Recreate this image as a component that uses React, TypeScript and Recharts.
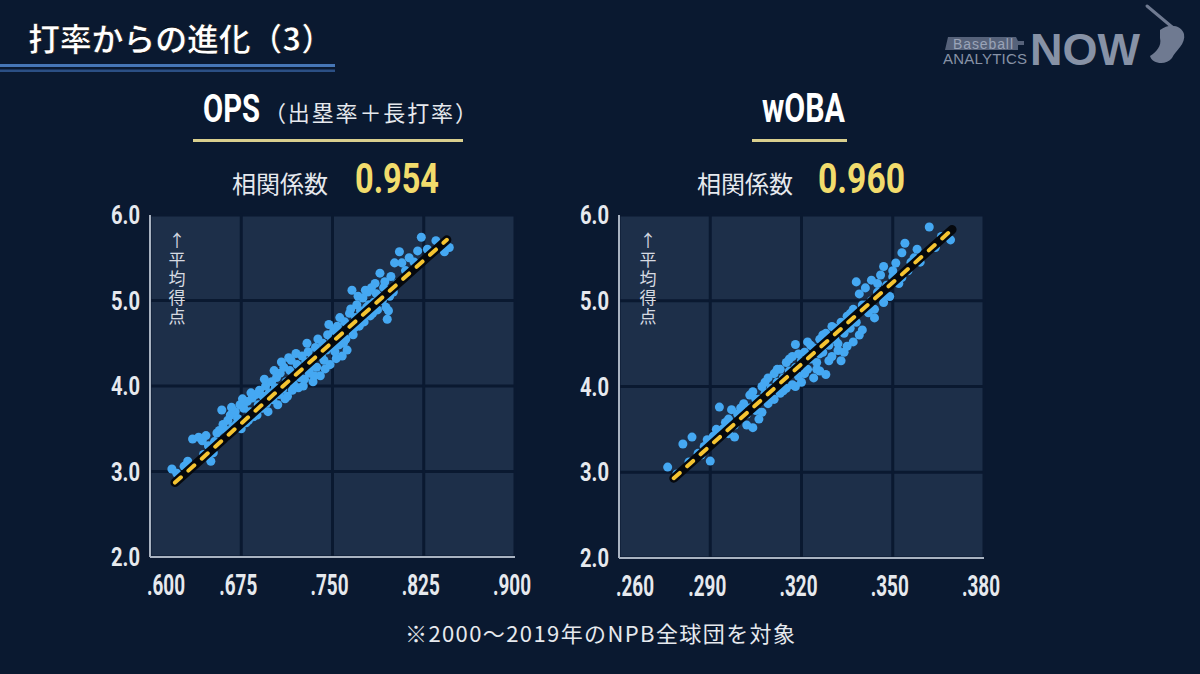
import React from 'react';
import { ScatterChart, Scatter, XAxis, YAxis, ZAxis, CartesianGrid } from 'recharts';

// OPS vs 平均得点 (estimated from the slide)
const opsSample: [number, number][] = [
  [0.618, 3.03], [0.622, 2.98], [0.628, 3.06], [0.631, 3.12], [0.635, 3.38], [0.64, 3.4],
  [0.643, 3.36], [0.646, 3.42], [0.648, 3.3], [0.65, 3.12], [0.652, 3.22], [0.655, 3.45],
  [0.657, 3.48], [0.659, 3.72], [0.66, 3.55], [0.662, 3.4], [0.664, 3.6], [0.666, 3.66],
  [0.668, 3.52], [0.67, 3.7], [0.672, 3.62], [0.674, 3.78], [0.675, 3.5], [0.677, 3.74],
  [0.679, 3.57], [0.68, 3.82], [0.682, 3.7], [0.684, 3.86], [0.685, 3.64], [0.687, 3.9],
  [0.689, 3.78], [0.69, 3.95], [0.692, 3.74], [0.693, 3.88], [0.695, 4.0], [0.696, 3.8],
  [0.698, 3.92], [0.7, 4.05], [0.701, 3.84], [0.703, 3.98], [0.704, 4.1], [0.706, 3.9],
  [0.707, 4.15], [0.709, 3.96], [0.71, 4.22], [0.712, 4.05], [0.713, 3.88], [0.715, 4.18],
  [0.716, 4.3], [0.718, 4.02], [0.719, 4.12], [0.721, 4.25], [0.722, 3.98], [0.724, 4.2],
  [0.725, 4.35], [0.727, 4.08], [0.728, 4.28], [0.73, 4.4], [0.731, 4.15], [0.733, 4.32],
  [0.734, 4.05], [0.736, 4.45], [0.737, 4.22], [0.739, 4.38], [0.74, 4.12], [0.742, 4.5],
  [0.743, 4.3], [0.745, 4.42], [0.746, 4.6], [0.748, 4.25], [0.749, 4.52], [0.751, 4.65],
  [0.752, 4.4], [0.754, 4.7], [0.755, 4.48], [0.757, 4.62], [0.758, 4.35], [0.76, 4.75],
  [0.761, 4.55], [0.763, 4.68], [0.764, 4.85], [0.766, 5.12], [0.767, 4.6], [0.769, 4.8],
  [0.77, 4.95], [0.772, 4.7], [0.773, 4.88], [0.775, 5.03], [0.776, 4.75], [0.778, 4.92],
  [0.779, 5.1], [0.781, 4.82], [0.782, 5.15], [0.784, 4.98], [0.785, 5.2], [0.787, 4.89],
  [0.788, 5.05], [0.789, 5.32], [0.791, 5.0], [0.793, 5.22], [0.795, 4.78], [0.796, 4.88],
  [0.798, 5.28], [0.8, 5.1], [0.801, 5.44], [0.803, 5.2], [0.805, 5.57], [0.807, 5.44],
  [0.81, 5.35], [0.813, 5.5], [0.817, 5.45], [0.82, 5.58], [0.823, 5.74], [0.828, 5.6],
  [0.835, 5.7], [0.842, 5.57], [0.846, 5.62],
  [0.683, 3.92], [0.688, 3.66], [0.694, 4.08], [0.697, 3.7], [0.702, 4.18], [0.705, 3.78],
  [0.708, 4.28], [0.711, 3.85], [0.714, 4.33], [0.717, 3.95], [0.72, 4.38], [0.723, 4.1],
  [0.726, 4.0], [0.729, 4.5], [0.732, 4.22], [0.735, 4.12], [0.738, 4.55], [0.741, 4.35],
  [0.744, 4.2], [0.747, 4.72], [0.75, 4.45], [0.753, 4.32], [0.756, 4.8], [0.759, 4.5],
  [0.762, 4.42], [0.765, 4.9], [0.768, 4.68], [0.771, 5.05], [0.774, 4.78], [0.777, 5.12],
  [0.78, 4.95], [0.783, 4.85], [0.786, 5.08], [0.792, 5.15], [0.794, 4.92], [0.797, 5.05],
  [0.663, 3.48], [0.667, 3.75], [0.671, 3.55], [0.676, 3.85], [0.681, 3.6], [0.644, 3.2],
  [0.653, 3.35],
];
const opsFit: [number, number][] = [[0.6205, 2.87], [0.844, 5.71]];
const opsTicks = [0.6, 0.675, 0.75, 0.825, 0.9];

// wOBA vs 平均得点
const wobaSample: [number, number][] = [
  [0.276, 3.06], [0.279, 2.98], [0.281, 3.33], [0.283, 3.12], [0.284, 3.41], [0.286, 3.22],
  [0.288, 3.3], [0.289, 3.38], [0.29, 3.13], [0.291, 3.42], [0.293, 3.76], [0.294, 3.5],
  [0.295, 3.58], [0.296, 3.45], [0.297, 3.73], [0.298, 3.41], [0.299, 3.68], [0.3, 3.62],
  [0.301, 3.8], [0.302, 3.55], [0.303, 3.9], [0.304, 3.52], [0.304, 3.94], [0.305, 3.72],
  [0.306, 3.85], [0.307, 4.0], [0.307, 3.7], [0.308, 3.92], [0.309, 4.1], [0.309, 3.8],
  [0.31, 3.98], [0.311, 4.15], [0.311, 3.85], [0.312, 4.05], [0.313, 4.2], [0.313, 3.92],
  [0.314, 4.1], [0.315, 4.28], [0.315, 3.98], [0.316, 4.18], [0.317, 4.35], [0.317, 4.02],
  [0.318, 4.22], [0.318, 4.49], [0.319, 4.12], [0.32, 4.3], [0.32, 4.05], [0.321, 4.4],
  [0.322, 4.2], [0.322, 4.52], [0.323, 4.32], [0.324, 4.1], [0.324, 4.45], [0.325, 4.28],
  [0.326, 4.55], [0.326, 4.18], [0.327, 4.4], [0.328, 4.14], [0.328, 4.62], [0.329, 4.48],
  [0.33, 4.35], [0.33, 4.7], [0.331, 4.55], [0.332, 4.42], [0.333, 4.75], [0.333, 4.3],
  [0.334, 4.62], [0.335, 4.47], [0.335, 4.82], [0.336, 4.68], [0.337, 4.52], [0.337, 4.9],
  [0.338, 5.22], [0.338, 4.75], [0.339, 5.08], [0.34, 4.66], [0.34, 4.95], [0.341, 5.15],
  [0.342, 4.86], [0.343, 5.24], [0.343, 5.0], [0.344, 4.8], [0.345, 5.1], [0.346, 5.3],
  [0.347, 4.98], [0.347, 5.07], [0.347, 5.4], [0.348, 5.18], [0.35, 5.28], [0.351, 5.44],
  [0.352, 5.2], [0.353, 5.27], [0.353, 5.56], [0.354, 5.67], [0.355, 5.35], [0.357, 5.5],
  [0.359, 5.45], [0.362, 5.86], [0.364, 5.62], [0.366, 5.75], [0.369, 5.71],
  [0.292, 3.5], [0.296, 3.62], [0.3, 3.75], [0.302, 3.68], [0.305, 3.85], [0.306, 3.62],
  [0.308, 4.05], [0.31, 3.85], [0.312, 4.2], [0.314, 3.95], [0.316, 4.32], [0.318, 4.0],
  [0.319, 4.38], [0.321, 4.15], [0.323, 4.48], [0.325, 4.2], [0.327, 4.6], [0.329, 4.3],
  [0.331, 4.68], [0.332, 4.5], [0.334, 4.4], [0.336, 4.85], [0.339, 4.6], [0.341, 4.95],
  [0.344, 4.9], [0.345, 5.2], [0.349, 5.05], [0.35, 5.35], [0.356, 5.45], [0.358, 5.6],
  [0.287, 3.2], [0.298, 3.55], [0.303, 3.75], [0.313, 4.02], [0.326, 4.38],
];
const wobaFit: [number, number][] = [[0.278, 2.93], [0.3695, 5.83]];
const wobaTicks = [0.26, 0.29, 0.32, 0.35, 0.38];

const runTicks = [2, 3, 4, 5, 6];

const BG = '#0a1930';
const PLOT = '#1d2f49';
const DOT = '#45a8f2';
const TXT = '#e6e9ee';
const COND = "Roboto, 'Liberation Sans', sans-serif";
const JP = "'Noto Sans CJK JP', 'Noto Sans', sans-serif";

const toXY = (pts: [number, number][]) => pts.map(([x, y]) => ({ x, y }));
const fmt3 = (v: number) => v.toFixed(3).slice(1);

const XTick = (props: any) => {
  const { x, y, payload, index } = props;
  return (
    <text
      x={x + (index === 0 ? 16 : -3)}
      y={y + 36}
      textAnchor="middle"
      fill={TXT}
      fontSize={29}
      fontWeight={700}
      fontFamily={COND}
      textLength={38}
      lengthAdjust="spacingAndGlyphs"
    >
      {fmt3(payload.value)}
    </text>
  );
};

const YTick = (props: any) => {
  const { x, y, payload } = props;
  return (
    <text
      x={x}
      y={y + 9}
      textAnchor="end"
      fill={TXT}
      fontSize={25}
      fontWeight={700}
      fontFamily={COND}
      textLength={29}
      lengthAdjust="spacingAndGlyphs"
    >
      {payload.value.toFixed(1)}
    </text>
  );
};

type PanelProps = {
  left: number;
  plotHeight: number;
  sample: [number, number][];
  fit: [number, number][];
  xTicks: number[];
};

const Panel = ({ left, plotHeight, sample, fit, xTicks }: PanelProps) => (
  <div style={{ position: 'absolute', left, top: 200 }}>
    <ScatterChart width={470} height={plotHeight + 80} margin={{ top: 15, right: 55, bottom: 25, left: 0 }}>
      <CartesianGrid fill={PLOT} fillOpacity={1} stroke={BG} strokeWidth={3} />
      <XAxis
        type="number"
        dataKey="x"
        domain={[xTicks[0], xTicks[xTicks.length - 1]]}
        ticks={xTicks}
        interval={0}
        height={40}
        tickLine={false}
        tickSize={0}
        axisLine={{ stroke: '#a9b3c1', strokeWidth: 2 }}
        tick={<XTick />}
      />
      <YAxis
        type="number"
        dataKey="y"
        domain={[2, 6]}
        ticks={runTicks}
        interval={0}
        width={50}
        tickLine={false}
        tickSize={0}
        tickMargin={10}
        axisLine={{ stroke: '#a9b3c1', strokeWidth: 2 }}
        tick={<YTick />}
      />
      <ZAxis range={[50, 50]} />
      <Scatter data={toXY(sample)} fill={DOT} isAnimationActive={false} />
      <Scatter
        data={toXY(fit)}
        isAnimationActive={false}
        line={{ stroke: '#05080d', strokeWidth: 9, strokeLinecap: 'round' }}
        shape={() => <g />}
      />
      <Scatter
        data={toXY(fit)}
        isAnimationActive={false}
        line={{ stroke: '#f5c431', strokeWidth: 4, strokeDasharray: '8 10', strokeLinecap: 'round' }}
        shape={() => <g />}
      />
    </ScatterChart>
  </div>
);

// 縦書きラベル「↑平均得点」
const VLabel = ({ cx }: { cx: number }) => (
  <text
    x={cx}
    y={232}
    fill="#d6dae1"
    fontFamily={JP}
    fontSize={17}
    letterSpacing={2}
    style={{ writingMode: 'vertical-rl', textOrientation: 'upright' } as React.CSSProperties}
  >
    ↑平均得点
  </text>
);

export default function App() {
  return (
    <div
      style={{
        position: 'absolute',
        left: 0,
        top: 0,
        width: 1200,
        height: 674,
        background: BG,
        overflow: 'hidden',
      }}
    >
      <Panel left={100} plotHeight={342} sample={opsSample} fit={opsFit} xTicks={opsTicks} />
      <Panel left={569} plotHeight={343} sample={wobaSample} fit={wobaFit} xTicks={wobaTicks} />

      <svg width={1200} height={674} style={{ position: 'absolute', left: 0, top: 0, pointerEvents: 'none' }}>
        {/* title */}
        <text x={28} y={51} fill="#ffffff" fontFamily={JP} fontWeight={700} fontSize={32} stroke="#000" strokeWidth={0.6} textLength={305} lengthAdjust="spacing">
          打率からの進化（3）
        </text>
        <rect x={0} y={64} width={335} height={3} fill="#4676b6" />
        <rect x={0} y={69.5} width={335} height={2.5} fill="#2b4f84" />

        {/* logo */}
        <path d="M948 37 L1016 37 L1018 41 L1024 41 L1024 45 L1018 45 L1018 50 L945 50 Z" fill="#56627a" />
        <text x={953} y={49} fill="#9aa4b8" fontFamily="'Liberation Sans', sans-serif" fontSize={14} textLength={60}>
          Baseball
        </text>
        <text x={943} y={64} fill="#8792a6" fontFamily="'Liberation Sans', sans-serif" fontSize={15} textLength={84}>
          ANALYTICS
        </text>
        <text x={1030} y={65} fill="#8792a6" fontFamily="'Liberation Sans', sans-serif" fontWeight={700} fontSize={44} textLength={110} lengthAdjust="spacingAndGlyphs">
          NOW
        </text>
        <line x1={1147} y1={6} x2={1178} y2={32} stroke="#6f7a91" strokeWidth={3} strokeLinecap="round" />
        <path d="M1160 30 C1170 22 1182 26 1184 34 C1186 44 1176 50 1172 58 C1166 66 1152 64 1150 56 C1156 52 1162 46 1160 38 Z" fill="#6f7a91" />

        {/* OPS header */}
        <text transform="translate(203 122) scale(1 1.36)" x={0} y={0} fill="#ffffff" fontFamily={COND} fontWeight={700} fontSize={29} textLength={57} lengthAdjust="spacingAndGlyphs">
          OPS
        </text>
        <text x={264} y={121} fill={TXT} fontFamily={JP} fontSize={22} textLength={213} lengthAdjust="spacing">
          （出塁率＋長打率）
        </text>
        <rect x={193} y={139} width={270} height={3} fill="#d9cf8e" />
        <text x={232} y={193} fill={TXT} fontFamily={JP} fontSize={24}>
          相関係数
        </text>
        <text x={355} y={193} fill="#f2dc6c" fontFamily={COND} fontWeight={700} fontSize={42} textLength={84} lengthAdjust="spacingAndGlyphs">
          0.954
        </text>

        {/* wOBA header */}
        <text x={762} y={122} fill="#ffffff" fontFamily={COND} fontWeight={700} fontSize={40} textLength={83} lengthAdjust="spacingAndGlyphs">
          wOBA
        </text>
        <rect x={752} y={139} width={95} height={3} fill="#d9cf8e" />
        <text x={697} y={193} fill={TXT} fontFamily={JP} fontSize={24}>
          相関係数
        </text>
        <text x={818} y={193} fill="#f2dc6c" fontFamily={COND} fontWeight={700} fontSize={42} textLength={87} lengthAdjust="spacingAndGlyphs">
          0.960
        </text>

        <VLabel cx={177} />
        <VLabel cx={648} />

        {/* footnote */}
        <text x={600} y={642} fill={TXT} fontFamily={JP} fontSize={22} textAnchor="middle" textLength={390} lengthAdjust="spacing">
          ※2000〜2019年のNPB全球団を対象
        </text>
      </svg>
    </div>
  );
}
